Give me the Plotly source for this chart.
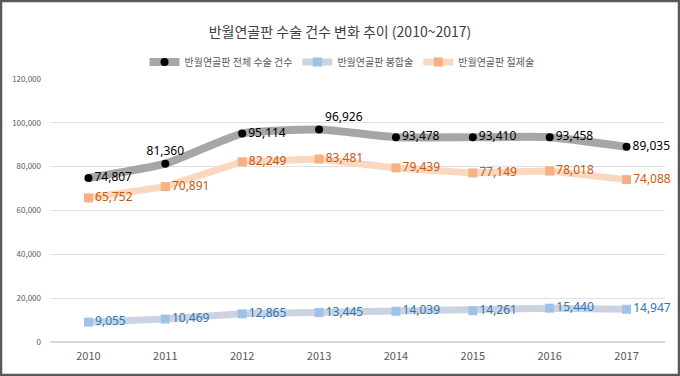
import plotly.graph_objects as go

years = ["2010", "2011", "2012", "2013", "2014", "2015", "2016", "2017"]
total = [74807, 81360, 95114, 96926, 93478, 93410, 93458, 89035]
suture = [9055, 10469, 12865, 13445, 14039, 14261, 15440, 14947]
resection = [65752, 70891, 82249, 83481, 79439, 77149, 78018, 74088]

name_total = "반월연골판 전체 수술 건수"
name_suture = "반월연골판 봉합술"
name_resection = "반월연골판 절제술"

def fmt(v):
    return f"{v:,}"

total_pos = ["middle right"] * 8
total_pos[1] = "top center"
total_pos[3] = "top right"

fig = go.Figure()

fig.add_trace(go.Scatter(
    x=years, y=total, name=name_total, mode="lines+markers+text",
    line=dict(color="#a6a6a6", width=8, shape="spline", smoothing=0.5),
    marker=dict(color="#000000", size=8, symbol="circle"),
    text=[fmt(v) for v in total], textposition=total_pos,
    textfont=dict(color="#000000", size=12, family="Noto Sans"),
    cliponaxis=False,
))
fig.add_trace(go.Scatter(
    x=years, y=suture, name=name_suture, mode="lines+markers+text",
    line=dict(color="#ccd3e0", width=7),
    marker=dict(color="#9dc3e6", size=9, symbol="square"),
    text=[fmt(v) for v in suture], textposition="middle right",
    textfont=dict(color="#2e75b6", size=12, family="Noto Sans"),
    cliponaxis=False,
))
fig.add_trace(go.Scatter(
    x=years, y=resection, name=name_resection, mode="lines+markers+text",
    line=dict(color="#fad7bf", width=7),
    marker=dict(color="#f4b183", size=9, symbol="square"),
    text=[fmt(v) for v in resection], textposition="middle right",
    textfont=dict(color="#c55a11", size=12, family="Noto Sans"),
    cliponaxis=False,
))

fig.update_layout(
    width=680, height=376,
    margin=dict(l=50, r=15, t=79, b=34, autoexpand=False),
    paper_bgcolor="white", plot_bgcolor="white",
    font=dict(family="Noto Sans CJK KR, Noto Sans", color="#595959"),
    title=dict(text="반월연골판 수술 건수 변화 추이 (2010~2017)",
               x=0.5, xref="container", xanchor="center",
               y=1 - 32 / 376, yref="container", yanchor="middle",
               font=dict(size=14, color="#404040")),
    legend=dict(orientation="h", x=(342 - 50) / 615, xref="paper", xanchor="center",
                y=(342 - 62) / 263, yref="paper", yanchor="middle",
                font=dict(size=10, color="#595959"), traceorder="normal",
                itemwidth=30),
    showlegend=True,
)
fig.update_xaxes(type="category", range=[-0.5, 7.5], showgrid=False,
                 showline=False, ticks="", tickangle=0,
                 tickfont=dict(size=11, color="#595959"),
                 ticklabelstandoff=6)
fig.update_yaxes(range=[0, 120000], dtick=20000, tickformat=",",
                 showgrid=True, gridcolor="#e0e0e0", gridwidth=1,
                 zeroline=True, zerolinecolor="#d9d9d9", showline=False,
                 tickfont=dict(size=8, color="#595959"), ticklabelstandoff=8)

# outer frame
fig.add_shape(type="rect", xref="paper", yref="paper",
              x0=(1 - 50) / 615, x1=(679 - 50) / 615,
              y0=(342 - 375) / 263, y1=(342 - 1) / 263,
              line=dict(color="#595959", width=2.5), fillcolor="rgba(0,0,0,0)")

fig.write_html("out.html", config={"displayModeBar": False},
               post_script="document.body.style.margin='0';")
